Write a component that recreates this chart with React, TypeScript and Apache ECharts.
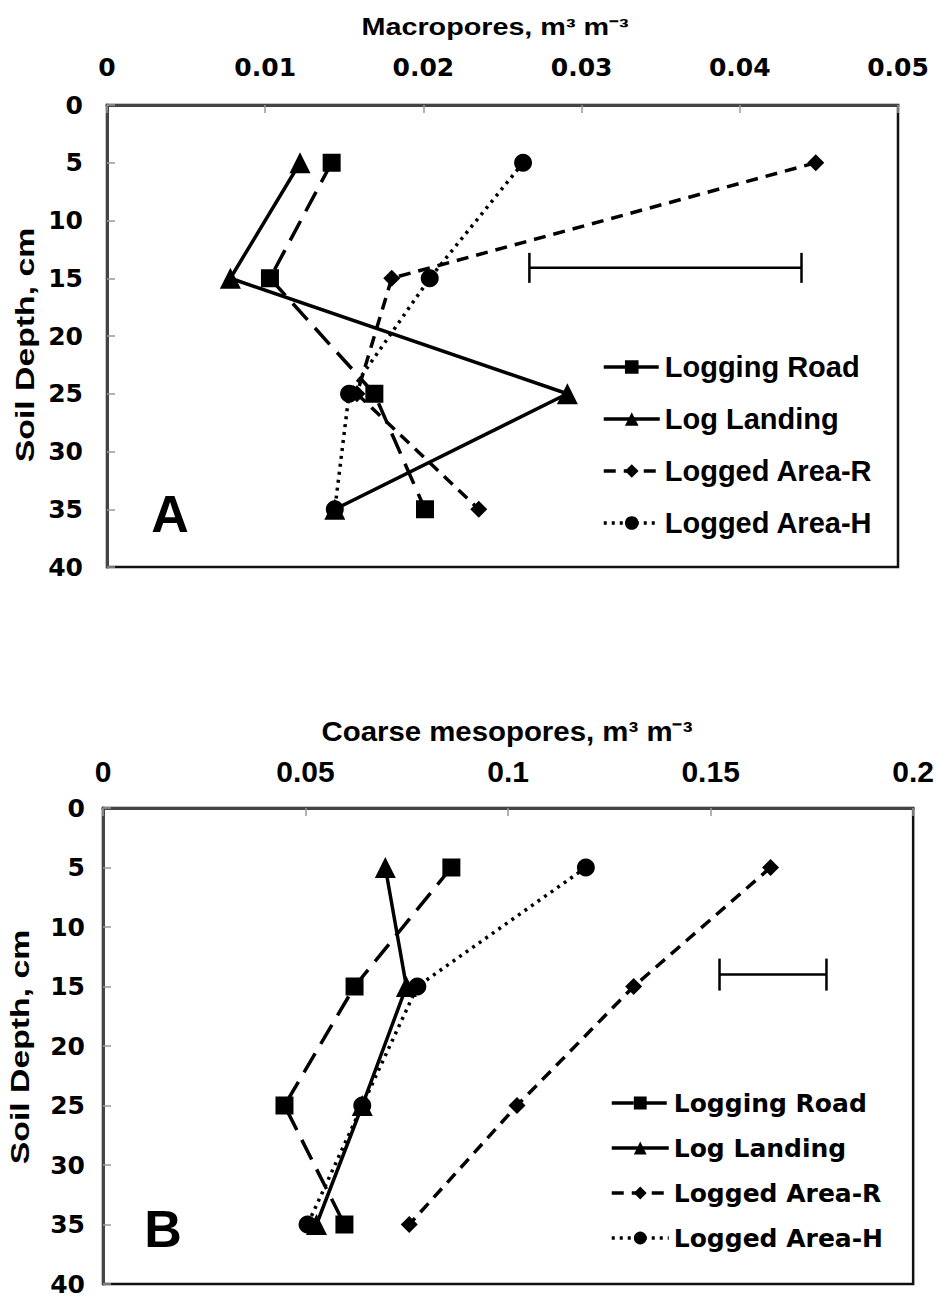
import React, { useEffect, useRef } from "react";
import * as echarts from "echarts";

const depths = [5, 15, 25, 35];
const seriesNames = ["Logging Road", "Log Landing", "Logged Area-R", "Logged Area-H"];

// Panel A: macropores (m3 m-3)
const macroRoad = [0.0142, 0.0103, 0.0169, 0.0201];
const macroLanding = [0.0122, 0.0078, 0.0291, 0.0144];
const macroAreaR = [0.0448, 0.018, 0.0158, 0.0235];
const macroAreaH = [0.0263, 0.0204, 0.0153, 0.0144];
const macroErrorBar = [0.0267, 0.0439, 14.1]; // [from, to, depth]

// Panel B: coarse mesopores (m3 m-3)
const mesoRoad = [0.086, 0.0621, 0.0448, 0.0596];
const mesoLanding = [0.0697, 0.0749, 0.064, 0.0527];
const mesoAreaR = [0.1648, 0.131, 0.1022, 0.0756];
const mesoAreaH = [0.1192, 0.0776, 0.064, 0.0505];
const mesoErrorBar = [0.1522, 0.1786, 14.0];

const macroTickMax = 0.05;
const mesoTickMax = 0.2;

const symbols = ["rect", "triangle", "diamond", "circle"];
const symbolSizes = [18, 21, 17, 18];
const lineTypes: any[] = [[22, 11], "solid", [12, 8], [3, 5]];

const BOLD = "bold";

function pairs(vals: number[]) {
  return vals.map((v, i) => [v, depths[i]]);
}

function errorBarSeries(bar: number[], gridIdx: number, capHalf: number) {
  return {
    type: "custom",
    xAxisIndex: gridIdx,
    yAxisIndex: gridIdx,
    silent: true,
    z: 1,
    encode: { x: [0, 1], y: 2 },
    data: [bar],
    renderItem: (params: any, api: any) => {
      const p1 = api.coord([api.value(0), api.value(2)]);
      const p2 = api.coord([api.value(1), api.value(2)]);
      const st = { stroke: "#000", lineWidth: 2.5 };
      return {
        type: "group",
        children: [
          { type: "line", shape: { x1: p1[0], y1: p1[1], x2: p2[0], y2: p2[1] }, style: st },
          { type: "line", shape: { x1: p1[0], y1: p1[1] - capHalf, x2: p1[0], y2: p1[1] + capHalf }, style: st },
          { type: "line", shape: { x1: p2[0], y1: p2[1] - capHalf, x2: p2[0], y2: p2[1] + capHalf }, style: st },
        ],
      };
    },
  };
}

function lineSeries(vals: number[][], gridIdx: number) {
  return vals.map((v, i) => ({
    type: "line",
    name: seriesNames[i],
    xAxisIndex: gridIdx,
    yAxisIndex: gridIdx,
    data: pairs(v),
    symbol: symbols[i],
    symbolSize: symbolSizes[i],
    showSymbol: true,
    z: 2 + i,
    itemStyle: { color: "#000" },
    lineStyle: { color: "#000", width: 3.5, type: lineTypes[i] },
  }));
}

function legendData() {
  return seriesNames.map((n, i) => ({
    name: n,
    lineStyle: { color: "#000", width: 3.5, type: lineTypes[i] },
  }));
}

function txt(text: string, x: number, y: number, size: number, extra: any = {}) {
  return {
    type: "text",
    x,
    y,
    ...extra,
    style: {
      text,
      fill: "#000",
      fontFamily: "Liberation Sans",
      fontWeight: "bold",
      fontSize: size,
      textAlign: "center",
      textVerticalAlign: "middle",
    },
  };
}

export default function App() {
  const ref = useRef<HTMLDivElement>(null);
  useEffect(() => {
    document.body.style.margin = "0";
    const chart = echarts.init(ref.current!, undefined, { renderer: "svg" });
    const axisLine = { show: true, lineStyle: { color: "#444", width: 3 } };
    const axisTick = { show: true, inside: true, length: 8, lineStyle: { color: "#999", width: 1.5 } };
    const option: any = {
      animation: false,
      backgroundColor: "#fff",
      grid: [
        { left: 107, top: 105, width: 791, height: 462, show: true, borderColor: "#111", borderWidth: 2.5 },
        { left: 103, top: 808, width: 812, height: 476, show: true, borderColor: "#111", borderWidth: 2.5 },
      ],
      xAxis: [
        {
          gridIndex: 0, type: "value", position: "top", min: 0, max: macroTickMax, interval: 0.01,
          axisLine, axisTick, splitLine: { show: false },
          axisLabel: { margin: 25, color: "#000", fontFamily: "DejaVu Sans", fontWeight: BOLD, fontSize: 25 },
        },
        {
          gridIndex: 1, type: "value", position: "top", min: 0, max: mesoTickMax, interval: 0.05,
          axisLine, axisTick, splitLine: { show: false },
          axisLabel: { margin: 22, color: "#000", fontFamily: "Liberation Sans", fontWeight: BOLD, fontSize: 30 },
        },
      ],
      yAxis: [
        {
          gridIndex: 0, type: "value", inverse: true, min: 0, max: 40, interval: 5,
          axisLine, axisTick, splitLine: { show: false },
          axisLabel: { margin: 24, color: "#000", fontFamily: "DejaVu Sans", fontWeight: BOLD, fontSize: 25 },
        },
        {
          gridIndex: 1, type: "value", inverse: true, min: 0, max: 40, interval: 5,
          axisLine, axisTick, splitLine: { show: false },
          axisLabel: { margin: 18, color: "#000", fontFamily: "DejaVu Sans", fontWeight: BOLD, fontSize: 25 },
        },
      ],
      legend: [
        {
          data: legendData(), orient: "vertical", left: 597, top: 347,
          itemWidth: 56, itemHeight: 17, itemGap: 22,
          textStyle: { color: "#000", fontFamily: "Liberation Sans", fontWeight: BOLD, fontSize: 29, lineHeight: 30 },
          selectedMode: false,
        },
        {
          data: legendData(), orient: "vertical", left: 605, top: 1085,
          itemWidth: 57, itemHeight: 16, itemGap: 19,
          textStyle: { color: "#000", fontFamily: "DejaVu Sans", fontWeight: BOLD, fontSize: 25, lineHeight: 26 },
          selectedMode: false,
        },
      ],
      graphic: [
        txt("Macropores, m³ m⁻³", 495, 27, 23, { scaleX: 1.25 }),
        txt("Coarse mesopores, m³ m⁻³", 507, 731, 28, { scaleX: 1.05 }),
        txt("Soil Depth, cm", 25, 345, 25, { rotation: Math.PI / 2, scaleX: 1.35 }),
        txt("Soil Depth, cm", 20, 1047, 25, { rotation: Math.PI / 2, scaleX: 1.35 }),
        txt("A", 170, 514, 52),
        txt("B", 163, 1229, 52),
      ],
      series: [
        errorBarSeries(macroErrorBar, 0, 15),
        ...lineSeries([macroRoad, macroLanding, macroAreaR, macroAreaH], 0),
        errorBarSeries(mesoErrorBar, 1, 16),
        ...lineSeries([mesoRoad, mesoLanding, mesoAreaR, mesoAreaH], 1),
      ],
    };
    chart.setOption(option);
    return () => chart.dispose();
  }, []);
  return <div ref={ref} style={{ width: 937, height: 1299 }} />;
}
